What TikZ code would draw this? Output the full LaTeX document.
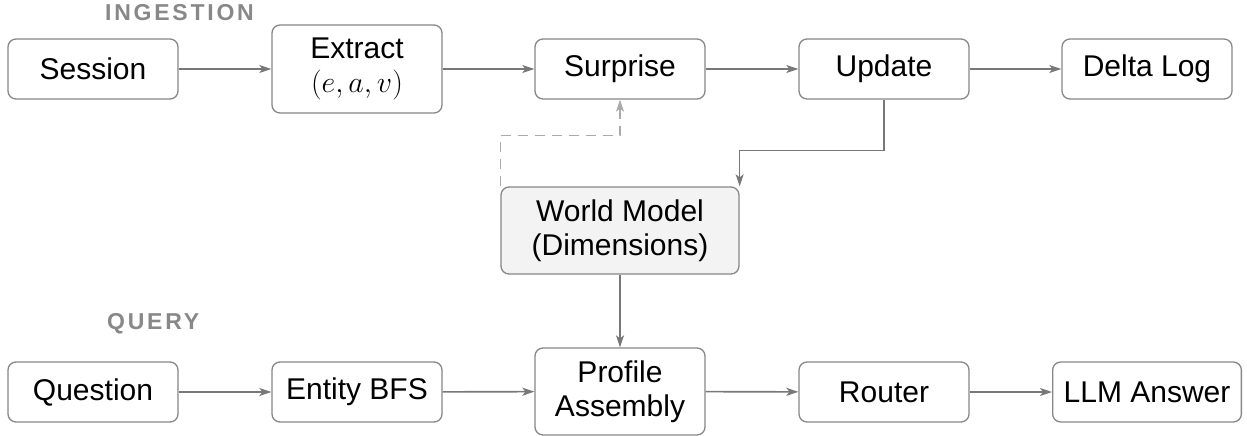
\RequirePackage{fix-cm}
\documentclass[tikz,border=0pt]{standalone}
\usepackage[no-math]{fontspec}
\setmainfont{Liberation Sans}
\newfontfamily\secfont{Liberation Sans}[LetterSpace=12]
\usetikzlibrary{arrows.meta,calc}
\definecolor{edgec}{RGB}{120,120,120}
\definecolor{boxc}{RGB}{135,135,135}
\definecolor{dashc}{RGB}{170,170,170}
\definecolor{labc}{RGB}{136,136,136}
\definecolor{wmfill}{RGB}{243,243,243}
\begin{document}
\begin{tikzpicture}[x=1pt,y=-1pt,
  box/.style={draw=boxc, line width=1.3pt, rounded corners=8pt, fill=white,
    minimum width=170pt, minimum height=60pt, inner xsep=11pt, inner ysep=6pt,
    align=center, font=\fontsize{30}{34}\selectfont},
  tallbox/.style={box, minimum height=88pt},
  conn/.style={draw=edgec, line width=1.6pt, -{Stealth[length=12pt,width=8pt,inset=3pt]}},
  fb/.style={draw=dashc, line width=1.6pt, dash pattern=on 10pt off 7pt,
    -{Stealth[length=12pt,width=8pt,inset=3pt]}},
  sect/.style={font=\secfont\bfseries\fontsize{23}{26}\selectfont, text=labc,
    anchor=base west, inner sep=0pt}]
\useasboundingbox (0,0) rectangle (1247,436);

% section labels
\node[sect] (ing) at (105,20.5) {INGESTION};
\node[sect] (qry) at (107,329) {QUERY};

% ingestion row
\node[box] (ses) at (93,69) {Session};
\node[tallbox] (ext) at (357,69) {Extract\\$(e,a,v)$};
\node[box] (sur) at (620,69) {Surprise};
\node[box] (upd) at (884,69) {Update};
\node[box] (dlt) at (1147,69) {Delta Log};

% world model
\node[box, fill=wmfill, minimum width=238pt, minimum height=87pt] (wm) at (620,230.5) {World Model\\(Dimensions)};

% query row
\node[box] (que) at (93,392) {Question};
\node[box] (ebfs) at (357,392) {Entity BFS};
\node[tallbox, minimum height=87pt] (pa) at (620,391.5) {Profile\\Assembly};
\node[box] (rtr) at (884,392) {Router};
\node[box] (llm) at (1147,392) {LLM Answer};

% connectors
\draw[conn] (ses) -- (ext);
\draw[conn] (ext) -- (sur);
\draw[conn] (sur) -- (upd);
\draw[conn] (upd) -- (dlt);
\draw[conn] (upd.south) -- ++(0,51) -| (wm.north east);
\draw[fb] (wm.north west) |- ([yshift=-36pt]sur.south) -- (sur.south);
\draw[conn] (wm.south) -- (pa.north);
\draw[conn] (que) -- (ebfs);
\draw[conn] (ebfs) -- (pa);
\draw[conn] (pa) -- (rtr);
\draw[conn] (rtr) -- (llm);
\end{tikzpicture}
\end{document}
